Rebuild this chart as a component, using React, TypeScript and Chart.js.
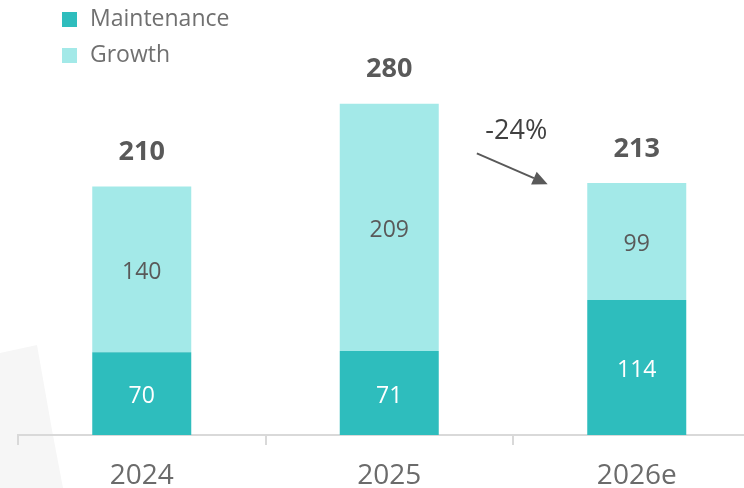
import React, { useEffect, useRef } from "react";
import { Chart, registerables } from "chart.js";

Chart.register(...registerables);

const categories = ["2024", "2025", "2026e"];
const maintenance = [70, 71, 114];
const growth = [140, 209, 99];
const seriesLabels = ["Maintenance", "Growth"];
const seriesColors = ["#2EBDBD", "#A3E9E8"];
const valueColors = ["#FFFFFF", "#595959"];
const changeLabel = "-24%";
// arrow between 2025 and 2026e, start/end heights in value units
const arrowFromValue = 238;
const arrowToValue = 212;

const FONT = "'Open Sans', 'DejaVu Sans', sans-serif";

export default function App() {
  const ref = useRef<HTMLCanvasElement | null>(null);

  useEffect(() => {
    document.body.style.overflow = "hidden";
    const canvas = ref.current;
    if (!canvas) return;

    const backgroundPlugin = {
      id: "bgShape",
      beforeDraw(chart: any) {
        const ctx = chart.ctx;
        ctx.save();
        ctx.fillStyle = "#F6F6F6";
        ctx.beginPath();
        ctx.moveTo(0, 353);
        ctx.lineTo(37, 345);
        ctx.lineTo(52, 430);
        ctx.lineTo(63, 488);
        ctx.lineTo(0, 488);
        ctx.closePath();
        ctx.fill();
        ctx.restore();
      },
    };

    const legendPlugin = {
      id: "customLegend",
      afterDraw(chart: any) {
        const ctx = chart.ctx;
        ctx.save();
        chart.data.datasets.forEach((ds: any, i: number) => {
          const cy = 19.5 + i * 36;
          ctx.fillStyle = ds.backgroundColor;
          ctx.fillRect(62, cy - 7.5, 15, 15);
          ctx.fillStyle = "#707070";
          ctx.font = `23px ${FONT}`;
          ctx.textBaseline = "middle";
          ctx.textAlign = "left";
          ctx.fillText(ds.label, 90, cy);
        });
        ctx.restore();
      },
    };

    const labelsPlugin = {
      id: "valueLabels",
      afterDatasetsDraw(chart: any) {
        const ctx = chart.ctx;
        ctx.save();
        ctx.textAlign = "center";
        ctx.textBaseline = "middle";
        chart.data.datasets.forEach((ds: any, di: number) => {
          const meta = chart.getDatasetMeta(di);
          meta.data.forEach((el: any, i: number) => {
            const y = (el.y + el.base) / 2;
            ctx.fillStyle = valueColors[di];
            ctx.font = `23px ${FONT}`;
            ctx.fillText(String(ds.data[i]), el.x, y + 3);
          });
        });
        const top = chart.getDatasetMeta(chart.data.datasets.length - 1);
        top.data.forEach((el: any, i: number) => {
          const total = chart.data.datasets.reduce((s: number, d: any) => s + d.data[i], 0);
          ctx.fillStyle = "#595959";
          ctx.font = `bold 27px ${FONT}`;
          ctx.fillText(String(total), el.x, el.y - 34);
        });

        // arrow annotation between 2025 and 2026e
        const xs = chart.scales.x;
        const ys = chart.scales.y;
        const c1 = xs.getPixelForValue(1);
        const c2 = xs.getPixelForValue(2);
        const w = c2 - c1;
        const x0 = c1 + 0.354 * w;
        const x1 = c1 + 0.64 * w;
        const y0 = ys.getPixelForValue(arrowFromValue);
        const y1 = ys.getPixelForValue(arrowToValue);
        const ang = Math.atan2(y1 - y0, x1 - x0);
        const headLen = 15;
        const headW = 7;
        const bx = x1 - headLen * Math.cos(ang);
        const by = y1 - headLen * Math.sin(ang);
        ctx.strokeStyle = "#595959";
        ctx.fillStyle = "#595959";
        ctx.lineWidth = 2;
        ctx.beginPath();
        ctx.moveTo(x0, y0);
        ctx.lineTo(bx, by);
        ctx.stroke();
        ctx.beginPath();
        ctx.moveTo(x1, y1);
        ctx.lineTo(bx + headW * Math.sin(ang), by - headW * Math.cos(ang));
        ctx.lineTo(bx - headW * Math.sin(ang), by + headW * Math.cos(ang));
        ctx.closePath();
        ctx.fill();

        ctx.fillStyle = "#404040";
        ctx.font = `27px ${FONT}`;
        ctx.fillText(changeLabel, (x0 + x1) / 2 + 4, y0 - 22);
        ctx.restore();
      },
    };

    const chart = new Chart(canvas, {
      type: "bar",
      data: {
        labels: categories,
        datasets: [
          {
            label: seriesLabels[0],
            data: maintenance,
            backgroundColor: seriesColors[0],
            borderWidth: 0,
          },
          {
            label: seriesLabels[1],
            data: growth,
            backgroundColor: seriesColors[1],
            borderWidth: 0,
          },
        ],
      },
      options: {
        animation: false,
        responsive: true,
        maintainAspectRatio: false,
        events: [],
        layout: { padding: { top: 80, left: 18, right: 9.5, bottom: 0 } },
        datasets: { bar: { categoryPercentage: 0.4, barPercentage: 1.0 } },
        plugins: { legend: { display: false }, tooltip: { enabled: false } },
        scales: {
          x: {
            stacked: true,
            grid: {
              offset: true,
              drawOnChartArea: false,
              drawTicks: true,
              tickLength: 10,
              color: "#D9D9D9",
              lineWidth: 2,
            },
            border: { color: "#D9D9D9", width: 2 },
            ticks: {
              color: "#6B6B6B",
              font: { family: FONT, size: 28 },
              padding: 14,
            },
            afterFit: (s: any) => {
              s.height = 53;
            },
          },
          y: { stacked: true, display: false, min: 0, max: 300 },
        },
      },
      plugins: [backgroundPlugin, labelsPlugin, legendPlugin],
    });
    return () => chart.destroy();
  }, []);

  return (
    <div style={{ position: "fixed", left: 0, top: 0, width: 744, height: 488, overflow: "hidden", background: "#fff" }}>
      <div style={{ position: "relative", width: 770, height: 488 }}>
        <canvas ref={ref} />
      </div>
    </div>
  );
}
